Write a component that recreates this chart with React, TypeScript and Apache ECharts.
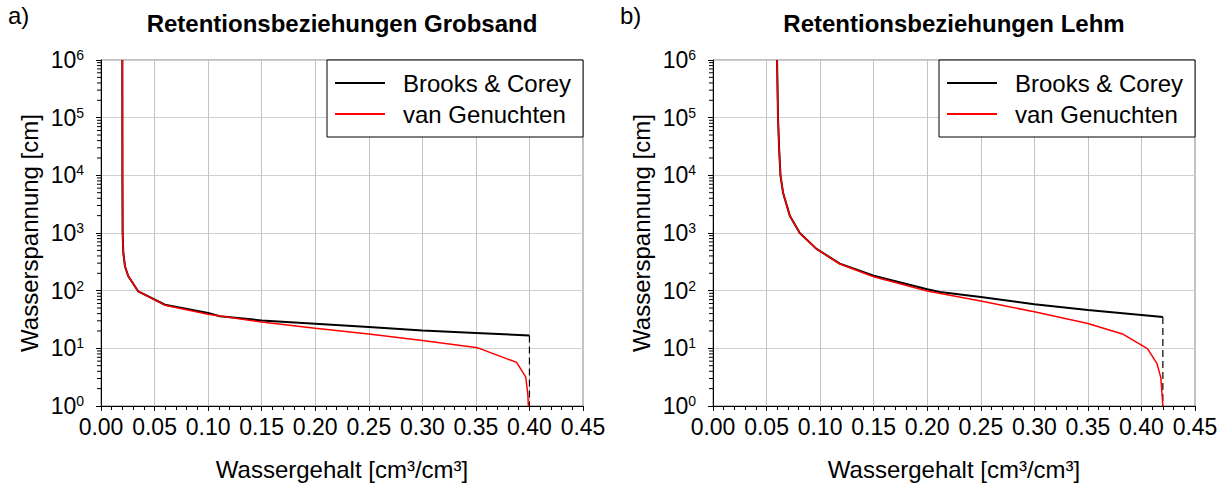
import React, { useEffect, useRef } from "react";
import * as echarts from "echarts";

// ---- Data ----
const sandBcTheta = [0.0199, 0.02, 0.0202, 0.0208, 0.0224, 0.0255, 0.0348, 0.0597, 0.1, 0.111, 0.15, 0.2, 0.25, 0.3, 0.35, 0.4];
const sandBcH = [1e6, 1e4, 1000, 460, 263, 178, 97, 57, 41, 36, 30.5, 26.7, 23.4, 20.4, 18.4, 16.7];
const sandVgTheta = [0.0199, 0.02, 0.0202, 0.0208, 0.0224, 0.0255, 0.0348, 0.0597, 0.1, 0.15, 0.2, 0.25, 0.3, 0.35, 0.355, 0.388, 0.3965, 0.3985, 0.399];
const sandVgH = [1e6, 1e4, 1000, 460, 263, 178, 97, 56, 39, 28.5, 22.4, 17.7, 13.7, 10.3, 9.7, 5.7, 3.2, 1.6, 1];

const lehmBcTheta = [0.0598, 0.0607, 0.0617, 0.063, 0.0654, 0.0717, 0.081, 0.0966, 0.1184, 0.15, 0.2, 0.2118, 0.25, 0.3, 0.35, 0.4, 0.42];
const lehmBcH = [1e6, 1e5, 3e4, 1e4, 5000, 2000, 1000, 530, 295, 181, 106, 95, 78, 58, 46, 38, 35];
const lehmVgTheta = [0.0598, 0.0607, 0.0617, 0.063, 0.0654, 0.0717, 0.081, 0.0966, 0.1184, 0.15, 0.2, 0.25, 0.3, 0.35, 0.383, 0.4056, 0.4144, 0.4181, 0.42];
const lehmVgH = [1e6, 1e5, 3e4, 1e4, 5000, 2000, 1000, 530, 290, 174, 99, 66, 43, 27, 17.5, 9.9, 5.5, 3.1, 1];

const xTicks = [0, 0.05, 0.1, 0.15, 0.2, 0.25, 0.3, 0.35, 0.4, 0.45];
const yMin = 1;
const yMax = 1e6;

const panelTitles = ["Retentionsbeziehungen Grobsand", "Retentionsbeziehungen Lehm"];
const panelLetters = ["a)", "b)"];
const seriesNames = ["Brooks & Corey", "van Genuchten"];
const xName = "Wassergehalt [cm³/cm³]";
const yName = "Wasserspannung [cm]";

const FONT = "'Liberation Sans', Arial, sans-serif";

const zip = (xs: number[], ys: number[]) => xs.map((x, i) => [x, ys[i]]);

const grids = [
  { left: 101, top: 60, width: 482, height: 346 },
  { left: 713, top: 60, width: 482, height: 346 },
];

export default function App() {
  const ref = useRef<HTMLDivElement>(null);

  useEffect(() => {
    if (!ref.current) return;
    const chart = echarts.init(ref.current, null, { renderer: "svg" });

    const xAxis = grids.map((_, i) => ({
      type: "value",
      gridIndex: i,
      min: xTicks[0],
      max: xTicks[xTicks.length - 1],
      interval: xTicks[1] - xTicks[0],
      name: xName,
      nameLocation: "middle",
      nameGap: 51,
      nameTextStyle: { fontSize: 24, color: "#000", fontFamily: FONT },
      axisLine: { show: true, lineStyle: { color: "#000", width: 1 } },
      axisTick: { show: true, inside: false, length: 5, lineStyle: { color: "#000" } },
      minorTick: { show: true, splitNumber: 5, length: 4, lineStyle: { color: "#000" } },
      axisLabel: {
        fontSize: 23,
        color: "#000",
        fontFamily: FONT,
        margin: 9,
        formatter: (v: number) => v.toFixed(2),
        showMinLabel: true,
        showMaxLabel: true,
      },
      splitLine: { show: true, lineStyle: { color: "#c4c4c4", width: 1 } },
    }));

    const yAxis = grids.map((_, i) => ({
      type: "log",
      logBase: 10,
      gridIndex: i,
      min: yMin,
      max: yMax,
      name: yName,
      nameLocation: "middle",
      nameGap: 60,
      nameTextStyle: { fontSize: 24, color: "#000", fontFamily: FONT },
      axisLine: { show: true, lineStyle: { color: "#000", width: 1 } },
      axisTick: { show: true, inside: false, length: 5, lineStyle: { color: "#000" } },
      axisLabel: {
        margin: 17,
        formatter: (v: number) => `{b|10}{s|${Math.round(Math.log10(v))}}`,
        rich: {
          b: { fontSize: 23, color: "#000", fontFamily: FONT, lineHeight: 24 },
          s: { fontSize: 14, color: "#000", fontFamily: FONT, verticalAlign: "top", lineHeight: 14 },
        },
      },
      splitLine: { show: true, lineStyle: { color: "#cfcfcf", width: 1 } },
    }));

    const panels = [
      { bc: zip(sandBcTheta, sandBcH), vg: zip(sandVgTheta, sandVgH), bcEnd: [sandBcTheta[sandBcTheta.length - 1], sandBcH[sandBcH.length - 1]] },
      { bc: zip(lehmBcTheta, lehmBcH), vg: zip(lehmVgTheta, lehmVgH), bcEnd: [lehmBcTheta[lehmBcTheta.length - 1], lehmBcH[lehmBcH.length - 1]] },
    ];

    const series: any[] = [];
    panels.forEach((p, i) => {
      series.push({
        name: seriesNames[0] + " θs",
        type: "line",
        xAxisIndex: i,
        yAxisIndex: i,
        data: [p.bcEnd, [p.bcEnd[0], yMin]],
        symbol: "none",
        lineStyle: { color: "#000", width: 1.2, type: [7, 4] },
        z: 2,
      });
      series.push({
        name: seriesNames[0],
        type: "line",
        xAxisIndex: i,
        yAxisIndex: i,
        data: p.bc,
        symbol: "none",
        showSymbol: false,
        color: "#000",
        lineStyle: { color: "#000", width: 2 },
        z: 3,
      });
      series.push({
        name: seriesNames[1],
        type: "line",
        xAxisIndex: i,
        yAxisIndex: i,
        data: p.vg,
        symbol: "none",
        showSymbol: false,
        color: "#ff0000",
        lineStyle: { color: "#ff0000", width: 1.5 },
        z: 4,
      });
    });

    const legend = grids.map((g) => ({
      data: seriesNames.map((n) => ({ name: n, icon: "path://M0,0H50V2H0Z" })),
      left: g.left + 226,
      top: g.top,
      orient: "vertical",
      padding: [9, 12, 9, 8],
      itemWidth: 50,
      itemHeight: 2,
      itemGap: 3,
      backgroundColor: "#fff",
      borderColor: "#000",
      borderWidth: 1,
      borderRadius: 0,
      selectedMode: false,
      textStyle: { fontSize: 24, color: "#000", fontFamily: FONT, padding: [0, 0, 0, 13], lineHeight: 28 },
    }));

    const graphic: any[] = [];
    grids.forEach((g, i) => {
      graphic.push({
        type: "text",
        x: g.left + g.width / 2,
        y: 23,
        style: { text: panelTitles[i], align: "center", verticalAlign: "middle", fontSize: 24, fontWeight: "bold", fontFamily: FONT, fill: "#000" },
      });
      graphic.push({
        type: "text",
        x: i === 0 ? 8 : 620,
        y: 15,
        style: { text: panelLetters[i], align: "left", verticalAlign: "middle", fontSize: 24, fontFamily: FONT, fill: "#000" },
      });
    });

    chart.setOption({
      animation: false,
      backgroundColor: "#fff",
      grid: grids.map((g) => ({ ...g, show: true, borderColor: "#808080", borderWidth: 1, backgroundColor: "transparent" })),
      xAxis,
      yAxis,
      legend,
      series,
      graphic,
    });

    // minor ticks of the log axes (2..9 within every decade)
    const minor: any[] = [];
    grids.forEach((_, i) => {
      for (let d = 0; d < 6; d++) {
        for (let k = 2; k <= 9; k++) {
          const v = k * Math.pow(10, d);
          const pt = chart.convertToPixel({ gridIndex: i } as any, [0, v]) as number[];
          if (!pt) continue;
          minor.push({
            type: "line",
            shape: { x1: pt[0] - 4, y1: pt[1], x2: pt[0], y2: pt[1] },
            style: { stroke: "#000", lineWidth: 1 },
            silent: true,
          });
        }
      }
    });
    chart.setOption({ graphic: [...graphic, ...minor] });

    return () => chart.dispose();
  }, []);

  return <div ref={ref} style={{ position: "fixed", left: 0, top: 0, width: 1230, height: 488 }} />;
}
